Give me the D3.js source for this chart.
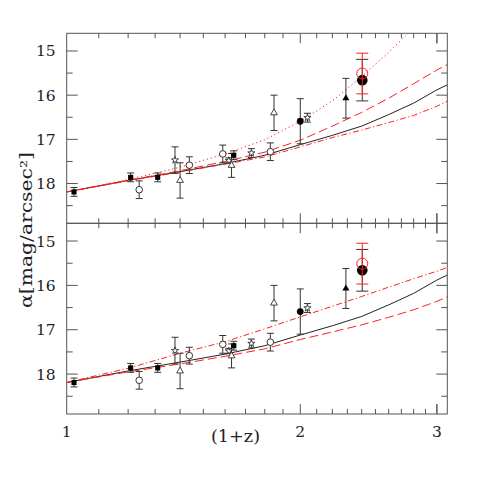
<!DOCTYPE html>
<html>
<head>
    <meta charset="utf-8">
    <title>alpha vs (1+z)</title>
    <script src="https://cdnjs.cloudflare.com/ajax/libs/d3/7.8.5/d3.min.js"></script>
</head>
<body>
<style type="text/css">
    body {
        margin: 0;
        background: #fff;
    }

    #renderer {
        width: 480px;
        height: 480px;
        background: #fff;
        display: block;
    }
</style>
<svg id="renderer" width="480" height="480"></svg>

<script type="text/javascript">
    // model curves, sampled in (1+z)
    var modelZ = [1.0, 1.2, 1.4, 1.6, 1.8, 2.0, 2.2, 2.4, 2.6, 2.8, 3.0, 3.1];
    var solidModel = [18.19, 17.93, 17.73, 17.55, 17.36, 17.12, 16.91, 16.70, 16.44, 16.18, 15.88, 15.76];
    // upper panel
    var dashedTop = [18.19, 17.93, 17.71, 17.50, 17.29, 17.02, 16.70, 16.39, 16.07, 15.74, 15.43, 15.30];
    var dottedTop = [18.19, 17.91, 17.63, 17.33, 17.01, 16.59, 16.13, 15.58, 15.03, 14.48, 13.90, 13.60];
    var dotDashTop = [18.19, 17.94, 17.74, 17.56, 17.40, 17.17, 16.96, 16.79, 16.62, 16.46, 16.25, 16.13];
    // lower panel
    var dashedBottom = [18.19, 17.95, 17.77, 17.60, 17.43, 17.22, 17.05, 16.89, 16.72, 16.55, 16.36, 16.25];
    var dotDashBottom = [18.19, 17.87, 17.53, 17.27, 16.98, 16.71, 16.47, 16.25, 16.04, 15.85, 15.68, 15.59];

    // observations: (1+z), alpha, error
    var squareZ = [1.022, 1.209, 1.31, 1.642];
    var squareA = [18.19, 17.86, 17.86, 17.36];
    var squareErr = [0.10, 0.10, 0.10, 0.10];

    var circleZ = [1.24, 1.439, 1.589, 1.83];
    var circleA = [18.14, 17.585, 17.33, 17.28];
    var circleErr = [0.20, 0.19, 0.20, 0.20];

    var starZ = [1.379, 1.618, 1.73, 2.043];
    var starA = [17.47, 17.48, 17.31, 16.51];
    var starErr = [0.30, 0.06, 0.10, 0.10];

    var triangleZ = [1.40, 1.631, 1.85];
    var triangleA = [17.93, 17.59, 16.40];
    var triangleErr = [0.40, 0.27, 0.40];

    var dotZ = [2.0];
    var dotA = [16.59];
    var dotErr = [0.51];

    var filledTriZ = [2.29];
    var filledTriA = [16.07];
    var filledTriErr = [0.45];

    var bigDotZ = [2.404];
    var bigDotA = [15.66];
    var bigDotErr = [0.47];

    var redCircleZ = [2.404];
    var redCircleA = [15.51];
    var redCircleErr = [0.46];

    // tick values
    var xMajorTicks = [1, 2, 3];
    var xMinorTicks = [1.1, 1.2, 1.3, 1.4, 1.5, 1.6, 1.7, 1.8, 1.9, 2.1, 2.2, 2.3, 2.4, 2.5, 2.6, 2.7, 2.8, 2.9, 3.0];
    var yMajorTicks = [15, 16, 17, 18];
    var yMinorTicks = [15.5, 16.5, 17.5, 18.5];

    var root = d3.select('#renderer');
    var serif = '"DejaVu Serif", "Liberation Serif", serif';

    var left = 66.7, right = 447.3;
    var top1 = 33.3, mid = 223.3, bottom2 = 414;

    var x = d3.scaleLog().domain([1, 3.094]).range([left, right]);
    var yTop = d3.scaleLinear().domain([14.6, 18.9]).range([top1, mid]);
    var yBottom = d3.scaleLinear().domain([14.6, 18.9]).range([mid, bottom2]);

    var frameColor = '#555';
    var red = '#ff2020';

    function drawPanel(name, y, curves) {
        var g = root.append('g');

        // clip area for model lines
        root.append('clipPath').attr('id', 'clip-' + name)
            .append('rect')
            .attr('x', left).attr('y', y.range()[0])
            .attr('width', right - left).attr('height', y.range()[1] - y.range()[0]);

        var lines = g.append('g').attr('clip-path', 'url(#clip-' + name + ')');
        curves.forEach(function (c) {
            var pts = modelZ.map(function (z, i) { return [z, c.values[i]]; });
            var line = d3.line().x(function (d) { return x(d[0]); }).y(function (d) { return y(d[1]); });
            lines.append('path')
                .attr('d', line(pts))
                .attr('fill', 'none')
                .attr('stroke', c.color)
                .attr('stroke-width', c.width || 1)
                .attr('stroke-dasharray', c.dash || null);
        });

        var y0 = y.range()[0], y1 = y.range()[1];

        // frame
        g.append('rect')
            .attr('x', left).attr('y', y0)
            .attr('width', right - left).attr('height', y1 - y0)
            .attr('fill', 'none').attr('stroke', frameColor).attr('stroke-width', 1);

        // x ticks, top and bottom of the panel, pointing inside
        xMinorTicks.concat(xMajorTicks).forEach(function (t) {
            if (t <= 1 || t > 3.094) return;
            var len = xMajorTicks.indexOf(t) >= 0 ? 10 : 5;
            g.append('line').attr('x1', x(t)).attr('x2', x(t)).attr('y1', y0).attr('y2', y0 + len)
                .attr('stroke', frameColor);
            g.append('line').attr('x1', x(t)).attr('x2', x(t)).attr('y1', y1).attr('y2', y1 - len)
                .attr('stroke', frameColor);
        });

        // y ticks, left and right
        yMinorTicks.concat(yMajorTicks).forEach(function (t) {
            var len = yMajorTicks.indexOf(t) >= 0 ? 11 : 6;
            g.append('line').attr('x1', left).attr('x2', left + len).attr('y1', y(t)).attr('y2', y(t))
                .attr('stroke', frameColor);
            g.append('line').attr('x1', right).attr('x2', right - len).attr('y1', y(t)).attr('y2', y(t))
                .attr('stroke', frameColor);
        });

        yMajorTicks.forEach(function (t) {
            g.append('text')
                .text(t)
                .attr('x', left - 11)
                .attr('y', y(t) + 5.5)
                .attr('font-family', serif)
                .attr('font-size', 15.5)
                .attr('fill', '#222')
                .attr('text-anchor', 'end');
        });

        // observations
        drawErrors(g, y, squareZ, squareA, squareErr, '#333', 3.5);
        drawErrors(g, y, circleZ, circleA, circleErr, '#333', 3.5);
        drawErrors(g, y, starZ, starA, starErr, '#333', 3.5);
        drawErrors(g, y, triangleZ, triangleA, triangleErr, '#333', 3.5);
        drawErrors(g, y, dotZ, dotA, dotErr, '#333', 3.5);
        drawErrors(g, y, filledTriZ, filledTriA, filledTriErr, '#333', 3.5);
        drawErrors(g, y, bigDotZ, bigDotA, bigDotErr, '#333', 6);

        drawSymbols(g, y, squareZ, squareA, d3.symbolSquare, 26, '#000', 'none');
        drawCircles(g, y, circleZ, circleA, 3.3, '#fff', '#333');
        drawSymbols(g, y, starZ, starA, d3.symbolStar, 16, '#fff', '#333');
        drawSymbols(g, y, triangleZ, triangleA, d3.symbolTriangle, 20, '#fff', '#333');
        drawCircles(g, y, dotZ, dotA, 3.4, '#000', 'none');
        drawSymbols(g, y, filledTriZ, filledTriA, d3.symbolTriangle, 22, '#000', 'none');
        drawCircles(g, y, bigDotZ, bigDotA, 5.3, '#000', 'none');

        drawErrors(g, y, redCircleZ, redCircleA, redCircleErr, red, 6);
        drawCircles(g, y, redCircleZ, redCircleA, 5.5, 'none', red);
    }

    function drawErrors(g, y, zs, as, errs, color, cap) {
        for (var i = 0; i < zs.length; i++) {
            var cx = x(zs[i]);
            var yl = y(as[i] - errs[i]), yh = y(as[i] + errs[i]);
            g.append('line').attr('x1', cx).attr('x2', cx).attr('y1', yl).attr('y2', yh)
                .attr('stroke', color).attr('stroke-width', 1);
            g.append('line').attr('x1', cx - cap).attr('x2', cx + cap).attr('y1', yl).attr('y2', yl)
                .attr('stroke', color).attr('stroke-width', 1);
            g.append('line').attr('x1', cx - cap).attr('x2', cx + cap).attr('y1', yh).attr('y2', yh)
                .attr('stroke', color).attr('stroke-width', 1);
        }
    }

    function drawSymbols(g, y, zs, as, type, size, fill, stroke) {
        for (var i = 0; i < zs.length; i++) {
            g.append('path')
                .attr('d', d3.symbol().type(type).size(size)())
                .attr('transform', 'translate(' + x(zs[i]) + ',' + y(as[i]) + ')')
                .attr('fill', fill)
                .attr('stroke', stroke)
                .attr('stroke-width', 0.9);
        }
    }

    function drawCircles(g, y, zs, as, r, fill, stroke) {
        for (var i = 0; i < zs.length; i++) {
            g.append('circle')
                .attr('cx', x(zs[i])).attr('cy', y(as[i])).attr('r', r)
                .attr('fill', fill)
                .attr('stroke', stroke)
                .attr('stroke-width', 1);
        }
    }

    drawPanel('top', yTop, [
        {values: solidModel, color: '#222'},
        {values: dashedTop, color: red, dash: '9,4'},
        {values: dottedTop, color: red, dash: '1.2,2.8'},
        {values: dotDashTop, color: red, dash: '6,2.5,1.2,2.5'}
    ]);

    drawPanel('bottom', yBottom, [
        {values: solidModel, color: '#222'},
        {values: dashedBottom, color: red, dash: '9,4'},
        {values: dotDashBottom, color: red, dash: '6,2.5,1.2,2.5'}
    ]);

    // x tick labels
    xMajorTicks.forEach(function (t) {
        root.append('text')
            .text(t)
            .attr('x', x(t))
            .attr('y', 436.5)
            .attr('font-family', serif)
            .attr('font-size', 15.5)
            .attr('fill', '#222')
            .attr('text-anchor', 'middle');
    });

    // axis titles
    root.append('text')
        .text('(1+z)')
        .attr('x', 235.5)
        .attr('y', 442)
        .attr('font-family', serif)
        .attr('font-size', 16)
        .attr('fill', '#222')
        .attr('text-anchor', 'middle')
        .attr('textLength', 49)
        .attr('lengthAdjust', 'spacingAndGlyphs');

    root.append('text')
        .text('α[mag/arcsec²]')
        .attr('transform', 'translate(32,230) rotate(-90)')
        .attr('font-family', serif)
        .attr('font-size', 16)
        .attr('fill', '#222')
        .attr('text-anchor', 'middle')
        .attr('textLength', 156)
        .attr('lengthAdjust', 'spacingAndGlyphs');
</script>
</body>
</html>
